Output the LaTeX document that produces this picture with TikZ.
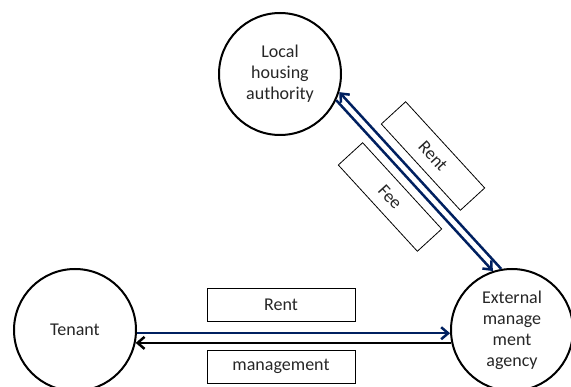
\documentclass[tikz,border=0pt]{standalone}
\usepackage{fontspec}
\setmainfont{Carlito}
\usetikzlibrary{arrows.meta}
\definecolor{flowblue}{RGB}{0,32,96}
\begin{document}
\begin{tikzpicture}[>={Straight Barb[length=7pt,width=12pt]},x=1pt,y=-1pt,
	party/.style={circle,draw,line width=2pt,minimum size=122pt,inner sep=0pt,align=center,text=black!85,font=\fontsize{18}{21}\selectfont},
	tagbox/.style={draw,line width=0.8pt,minimum width=148pt,minimum height=33pt,inner sep=0pt,text=black!85,font=\fontsize{18}{20}\selectfont},
	flow/.style={line width=2.5pt,->}]
	\clip (0,0) rectangle (571,387);
	\node[party] (lha) at (280,74) {Local\\housing\\authority};
	\node[party] (tenant) at (75,330) {Tenant};
	\node[party] (ema) at (512,330) {External\\manage\\ment\\agency};
	\draw[flow,flowblue] (tenant.-3) -- (ema.-177);
	\draw[flow] (ema.-168) -- (tenant.-12);
	\draw[flow,flowblue] (ema.100) -- (lha.-17);
	\draw[flow,flowblue] (lha.-25) -- (ema.108);
	\node[tagbox] (rentbox) at (281,304.5) {Rent};
	\node[tagbox] (mgmtbox) at (281,366.5) {management};
	\node[tagbox,minimum width=117pt,rotate=-47.5] (lharent) at (433,156) {Rent};
	\node[tagbox,minimum width=117pt,rotate=-47.5] (lhafee) at (390,197) {Fee};
\end{tikzpicture}
\end{document}
